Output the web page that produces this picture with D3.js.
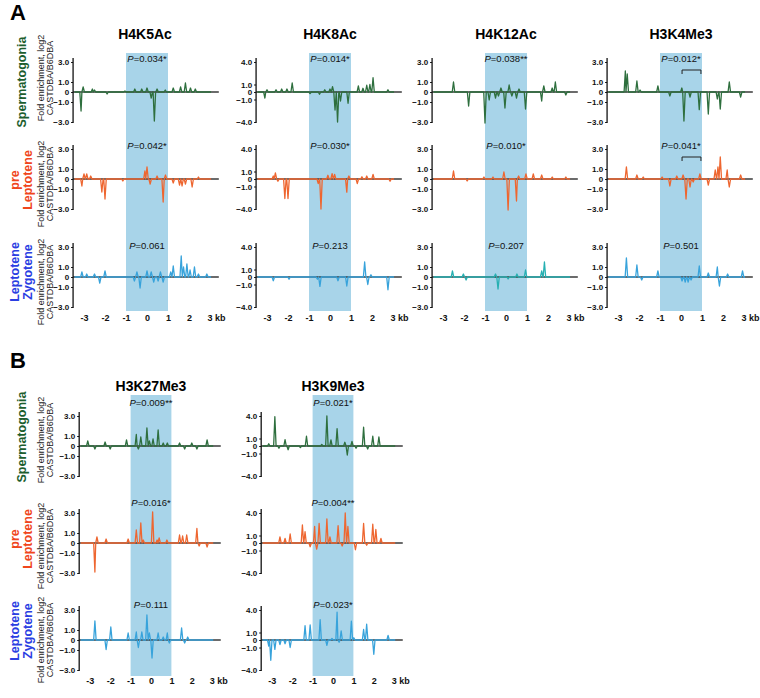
<!DOCTYPE html>
<html><head><meta charset="utf-8">
<script src="https://cdn.jsdelivr.net/npm/d3@7"></script>
<style>body{margin:0;background:#fff} svg{display:block} text{font-family:"Liberation Sans",Arial,Helvetica,sans-serif}</style>
</head><body><svg id="c" width="760" height="698"></svg>
<script>
// ---------------- data ----------------
const stages = [["Spermatogonia"], ["pre", "Leptotene"], ["Leptotene", "Zygotene"]];
const marksA = ["H4K5Ac", "H4K8Ac", "H4K12Ac", "H3K4Me3"];
const marksB = ["H3K27Me3", "H3K9Me3"];
const yMaxA = [3, 4, 3, 3];
const yMaxB = [3, 4];
const pA = [["0.034*", "0.014*", "0.038**", "0.012*"], ["0.042*", "0.030*", "0.010*", "0.041*"], ["0.061", "0.213", "0.207", "0.501"]];
const pB = [["0.009**", "0.021*"], ["0.016*", "0.004**"], ["0.111", "0.023*"]];
const xTicks = [-3, -2, -1, 0, 1, 2, 3];
const yTitle = ["Fold enrichment, log2", "CASTDBA/B6DBA"];

// spikes: [position kb, log2 fold enrichment]
const H4K5Ac_Spg = [[-3.14,-1.9],[-3.04,0.5],[-2.6,0.3],[-2.5,0.2],[-1.9,-0.2],[-1.05,0.1],[-0.58,0.3],[-0.25,0.3],[0.0,0.4],[0.2,-0.6],[0.35,-2.9],[0.48,0.3],[0.87,0.2],[1.25,0.4],[1.6,0.5],[1.83,0.9],[2.07,0.4],[2.3,0.3]];
const H4K8Ac_Spg = [[-3.1,-0.8],[-3.0,0.3],[-2.57,0.3],[-2.3,0.4],[-2.05,0.4],[-1.8,1.2],[-0.95,-0.2],[-0.5,-0.3],[-0.25,0.3],[0.0,0.4],[0.12,0.7],[0.24,-2.4],[0.36,-4.0],[0.5,-1.2],[0.86,-1.5],[1.35,0.8],[1.57,0.5],[1.75,0.9],[1.9,1.0],[2.05,1.9],[2.76,0.3]];
const H4K12Ac_Spg = [[-2.5,1.0],[-1.78,-1.4],[-1.0,-3.1],[-0.8,-0.8],[-0.5,-0.6],[-0.36,-0.4],[-0.24,0.4],[-0.05,-1.6],[0.15,0.7],[0.28,-0.4],[0.5,-0.6],[0.62,0.3],[0.93,-1.7],[1.7,-0.9],[1.8,0.6],[2.2,0.4],[2.35,1.0],[2.85,-0.3]];
const H3K4Me3_Spg = [[-2.65,2.1],[-2.56,1.8],[-2.1,1.1],[-1.95,0.2],[-1.1,0.6],[-0.53,-0.4],[0.04,0.4],[0.14,-2.9],[0.43,-0.5],[0.87,-1.76],[1.3,-2.2],[1.73,-0.7],[1.87,-1.7],[2.3,1.0],[2.84,-0.5]];

const H4K5Ac_Pre = [[-3.1,-0.7],[-3.0,0.5],[-2.87,0.5],[-2.68,0.3],[-2.15,-1.3],[-2.0,-2.0],[-1.15,-0.2],[-0.1,0.8],[0.0,1.2],[0.15,-0.5],[0.48,0.3],[0.77,-2.3],[0.88,0.4],[1.25,-0.4],[1.55,-0.6],[1.67,-0.7],[1.83,-0.5],[2.15,-0.8],[2.45,0.2]];
const H4K8Ac_Pre = [[-2.7,0.4],[-2.6,0.8],[-2.48,-0.3],[-2.15,-2.6],[-2.0,-2.6],[-0.56,-0.6],[-0.43,-4.0],[-0.1,0.5],[0.1,0.7],[0.22,0.6],[0.8,-1.75],[0.9,0.4],[1.3,-0.6],[1.52,0.3],[1.75,0.4],[2.05,0.6],[2.86,-0.3]];
const H4K12Ac_Pre = [[-2.5,0.8],[-1.85,-0.2],[-1.05,0.2],[-0.62,0.2],[-0.1,0.7],[0.1,-3.1],[0.5,-2.2],[0.6,0.3],[0.95,0.5],[1.3,0.5],[1.7,0.4],[2.2,0.2],[2.85,0.2]];
const H3K4Me3_Pre = [[-2.6,1.2],[-2.1,0.4],[-1.8,0.2],[-0.9,0.2],[-0.53,-0.7],[-0.2,0.3],[0.1,0.4],[0.24,-2.0],[0.43,-0.8],[0.58,-0.3],[0.9,0.5],[1.3,-0.6],[1.63,0.9],[1.76,1.2],[1.87,2.2],[2.2,0.9],[2.3,-0.8],[2.84,0.4]];

const H4K5Ac_Lep = [[-3.1,0.5],[-2.87,0.3],[-2.5,0.3],[-2.25,-0.6],[-2.0,0.6],[-0.6,-0.4],[-0.48,0.5],[-0.33,-1.1],[0.0,0.6],[0.2,0.5],[0.32,-0.5],[0.53,-0.4],[0.64,0.5],[0.77,-0.5],[1.13,0.5],[1.25,1.1],[1.63,2.1],[1.74,1.0],[1.9,1.3],[2.05,0.7],[2.26,1.0],[2.45,0.3],[2.85,0.3]];
const H4K8Ac_Lep = [[-2.7,-0.5],[-1.95,-0.3],[-0.6,-0.3],[-0.48,-1.25],[0.38,-0.5],[0.8,-1.2],[1.65,2.0],[1.8,-1.0],[1.95,0.3],[2.76,-1.7]];
const H4K12Ac_Lep = [[-2.55,0.6],[-2.03,0.3],[-1.9,-0.3],[-0.5,0.3],[-0.38,-1.2],[0.1,-0.2],[0.52,0.3],[0.93,0.7],[1.7,0.6],[1.83,1.5]];
const H3K4Me3_Lep = [[-2.6,1.9],[-2.1,1.2],[-1.87,-0.3],[-1.1,0.6],[0.05,-0.4],[0.2,-0.5],[0.34,-0.5],[0.48,-0.3],[0.87,1.1],[1.3,0.4],[1.73,1.0],[1.83,-0.9],[2.22,0.3],[2.93,0.6]];

const H3K27Me3_Spg = [[-3.1,0.5],[-2.75,-0.3],[-2.25,0.4],[-2.0,-0.3],[-1.2,0.6],[-0.72,1.15],[-0.62,-0.3],[-0.5,0.9],[-0.2,1.8],[-0.08,0.5],[0.1,0.7],[0.35,1.6],[0.6,0.3],[0.8,0.3],[1.4,0.3],[1.65,-0.3],[2.0,0.3],[2.25,-0.3],[2.75,0.6]];
const H3K9Me3_Spg = [[-3.15,0.3],[-2.85,3.9],[-2.65,-0.3],[-2.35,0.85],[-2.2,-0.5],[-1.6,-0.2],[-1.3,1.3],[-0.55,0.2],[-0.3,4.0],[-0.1,0.8],[0.2,2.3],[0.58,0.5],[0.7,-1.2],[0.93,0.6],[1.13,-0.3],[1.5,2.5],[1.7,-0.4],[1.95,1.3],[2.25,1.2]];
const H3K27Me3_Pre = [[-2.75,-2.9],[-2.65,0.6],[-2.2,0.4],[-1.12,0.4],[-0.72,1.3],[-0.5,2.0],[-0.38,0.3],[0.08,3.1],[0.3,0.3],[0.4,0.5],[0.78,0.3],[1.4,0.8],[1.55,0.7],[1.75,0.8],[2.25,1.45],[2.36,-0.3],[2.75,-0.4]];
const H3K9Me3_Pre = [[-2.6,0.8],[-2.35,0.6],[-2.1,1.2],[-1.5,2.4],[-1.37,1.5],[-1.12,-0.5],[-0.9,2.2],[-0.8,-0.8],[-0.68,2.6],[-0.3,3.2],[-0.15,0.8],[0.25,2.3],[0.45,-0.4],[0.6,4.0],[0.73,2.2],[1.1,-0.9],[1.5,2.6],[1.65,-0.3],[1.95,2.5],[2.1,1.8],[2.35,0.6]];
const H3K27Me3_Lep = [[-2.75,1.9],[-2.2,-0.95],[-1.97,1.3],[-1.12,0.7],[-0.72,0.8],[-0.62,-0.75],[-0.45,0.8],[-0.2,2.5],[-0.08,0.7],[0.05,-1.8],[0.35,0.7],[0.6,0.3],[0.8,0.7],[0.9,-0.3],[1.5,1.2],[1.65,-0.3],[1.8,0.3]];
const H3K9Me3_Lep = [[-3.15,-0.8],[-3.05,-2.7],[-2.85,-1.25],[-2.6,-0.6],[-2.35,-0.5],[-2.1,-1.0],[-1.37,1.9],[-1.12,2.0],[-0.63,2.7],[-0.3,-0.7],[-0.05,0.2],[0.2,3.7],[0.3,-0.3],[0.4,1.2],[0.9,2.5],[1.02,0.3],[1.5,1.4],[1.65,2.1],[2.0,-1.9],[2.7,0.6]];

const seriesA = [[H4K5Ac_Spg, H4K8Ac_Spg, H4K12Ac_Spg, H3K4Me3_Spg],
                 [H4K5Ac_Pre, H4K8Ac_Pre, H4K12Ac_Pre, H3K4Me3_Pre],
                 [H4K5Ac_Lep, H4K8Ac_Lep, H4K12Ac_Lep, H3K4Me3_Lep]];
const seriesB = [[H3K27Me3_Spg, H3K9Me3_Spg],
                 [H3K27Me3_Pre, H3K9Me3_Pre],
                 [H3K27Me3_Lep, H3K9Me3_Lep]];

// ---------------- layout / style ----------------
const stageColor = ["#1d5e2e", "#f0461c", "#2b3ee2"];
const lineColor = ["#2e6f3e", "#ee6630", "#38a3db"];
const bandColor = "#a8d4e9";
const FONT = '"Liberation Sans",Arial,Helvetica,sans-serif';

const layoutA = {
  letter: "A", letterY: 20, marks: marksA, yMax: yMaxA, p: pA, series: seriesA,
  zeroX: [147, 330, 506, 681], k: 21, zeroY: [92, 179, 277],
  bandTop: 53, bandBot: 311, titleY: 39, xTickY: 315,
  pY: [62, 149, 249], yTitleC: [78, 184, 282], stageC: [82, 180, 272],
  bracketCol: 3, bracketRows: [0, 1]
};
const layoutB = {
  letter: "B", letterY: 368, marks: marksB, yMax: yMaxB, p: pB, series: seriesB,
  zeroX: [151, 333], k: 20.4, zeroY: [446, 543, 640],
  bandTop: 395, bandBot: 676, titleY: 391, xTickY: 678,
  pY: [406, 506, 608], yTitleC: [440, 546, 640], stageC: [437, 539, 631],
  bracketCol: -1, bracketRows: []
};

const svg = d3.select("#c");

function toPoints(sp, w, lo, hi) {
  const s = sp.slice().sort((a, b) => a[0] - b[0]);
  const pts = [[lo, 0]];
  s.forEach((d, i) => {
    const prev = pts[pts.length - 1][0];
    if (d[0] - w > prev) pts.push([d[0] - w, 0]);
    pts.push(d);
    const next = i < s.length - 1 ? s[i + 1][0] : hi;
    if (d[0] + w < next - w || i === s.length - 1) pts.push([d[0] + w, 0]);
  });
  pts.push([hi, 0]);
  return pts;
}

function drawPanel(L) {
  svg.append("text").attr("x", 10).attr("y", L.letterY).text(L.letter)
    .attr("font-size", 22).attr("font-weight", "bold").attr("fill", "#000");

  // row labels + y titles
  L.zeroY.forEach((zy, r) => {
    const g = svg.append("g").attr("transform", `translate(21,${L.stageC[r]}) rotate(-90)`);
    const lines = stages[r];
    lines.forEach((t, i) => {
      const off = lines.length === 1 ? 0 : (i === 0 ? -6.5 : 6.5);
      g.append("text").attr("x", 0).attr("y", off).attr("dy", "0.36em")
        .attr("text-anchor", "middle").attr("font-size", 12.5).attr("font-weight", "bold")
        .attr("fill", stageColor[r]).text(t);
    });
    const g2 = svg.append("g").attr("transform", `translate(45,${L.yTitleC[r]}) rotate(-90)`);
    yTitle.forEach((t, i) => {
      g2.append("text").attr("x", 0).attr("y", i === 0 ? -4.5 : 4.5).attr("dy", "0.36em")
        .attr("text-anchor", "middle").attr("font-size", 9).attr("fill", "#222").text(t);
    });
  });

  L.marks.forEach((m, c) => {
    const zx = L.zeroX[c];
    const x = d3.scaleLinear().domain([-3, 3]).range([zx - 3 * L.k, zx + 3 * L.k]);
    // band
    svg.append("rect").attr("x", x(-1)).attr("y", L.bandTop)
      .attr("width", x(1) - x(-1)).attr("height", L.bandBot - L.bandTop).attr("fill", bandColor);
    // title
    svg.append("text").attr("x", zx - (c === 0 && L.letter === "A" ? 2 : 0)).attr("y", L.titleY)
      .attr("text-anchor", "middle").attr("font-size", 14).attr("font-weight", "bold").text(m);

    const M = L.yMax[c];
    L.zeroY.forEach((zy, r) => {
      const y = d3.scaleLinear().domain([-M, M]).range([zy + 30, zy - 30]);
      const ax = x(-3.52), ex = x(3.42);
      // zero line
      svg.append("line").attr("x1", ax).attr("x2", ex).attr("y1", y(0)).attr("y2", y(0))
        .attr("stroke", "#3a3a3a").attr("stroke-width", 1.3);
      // series
      let col = lineColor[r];
      if (r === 2 && c === 2 && L.letter === "A") col = "#27b0b2";
      const pts = toPoints(L.series[r][c], 0.06, -3.45, 3.05);
      svg.append("path").datum(pts)
        .attr("d", d3.line().x(d => x(d[0])).y(d => y(d[1])))
        .attr("fill", "none").attr("stroke", col).attr("stroke-width", 1.3)
        .attr("stroke-linejoin", "round");
      // y axis
      const yg = svg.append("g").attr("transform", `translate(${ax},0)`)
        .call(d3.axisLeft(y).tickValues([M, 1, 0, -1, -M]).tickSize(2).tickPadding(2)
          .tickFormat(v => v === 0 ? "0" : d3.format(".1f")(v)));
      yg.select(".domain").remove();
      yg.selectAll("text").attr("font-size", 8).attr("font-weight", "bold")
        .attr("font-family", FONT).attr("fill", "#111");
      yg.selectAll("line").attr("stroke", "#111");
      svg.append("line").attr("x1", ax).attr("x2", ax).attr("y1", y(M) - 4).attr("y2", y(-M) + 1)
        .attr("stroke", "#111").attr("stroke-width", 1.3);
      // P label
      const pt = svg.append("text").attr("x", zx).attr("y", L.pY[r]).attr("text-anchor", "middle")
        .attr("font-size", 9.5).attr("fill", "#111");
      pt.append("tspan").attr("font-style", "italic").text("P");
      pt.append("tspan").text("=" + L.p[r][c]);
      // bracket
      if (c === L.bracketCol && L.bracketRows.includes(r)) {
        const by = zy - 22;
        svg.append("path")
          .attr("d", `M${x(0.05)},${by + 4}V${by}H${x(0.95)}V${by + 4}`)
          .attr("fill", "none").attr("stroke", "#222").attr("stroke-width", 1);
      }
      // x axis on last row
      if (r === L.zeroY.length - 1) {
        const xg = svg.append("g").attr("transform", `translate(0,${L.xTickY})`)
          .call(d3.axisBottom(x).tickValues(xTicks).tickSize(0).tickPadding(0)
            .tickFormat(v => v === 3 ? "3 kb" : String(v)));
        xg.select(".domain").remove();
        xg.selectAll("text").attr("font-size", 9).attr("font-weight", "bold")
          .attr("font-family", FONT).attr("fill", "#111");
        xg.selectAll(".tick").filter(d => d === 3).select("text")
          .attr("text-anchor", "start").attr("x", -3);
      }
    });
  });
}

drawPanel(layoutA);
drawPanel(layoutB);
</script>
</body></html>
